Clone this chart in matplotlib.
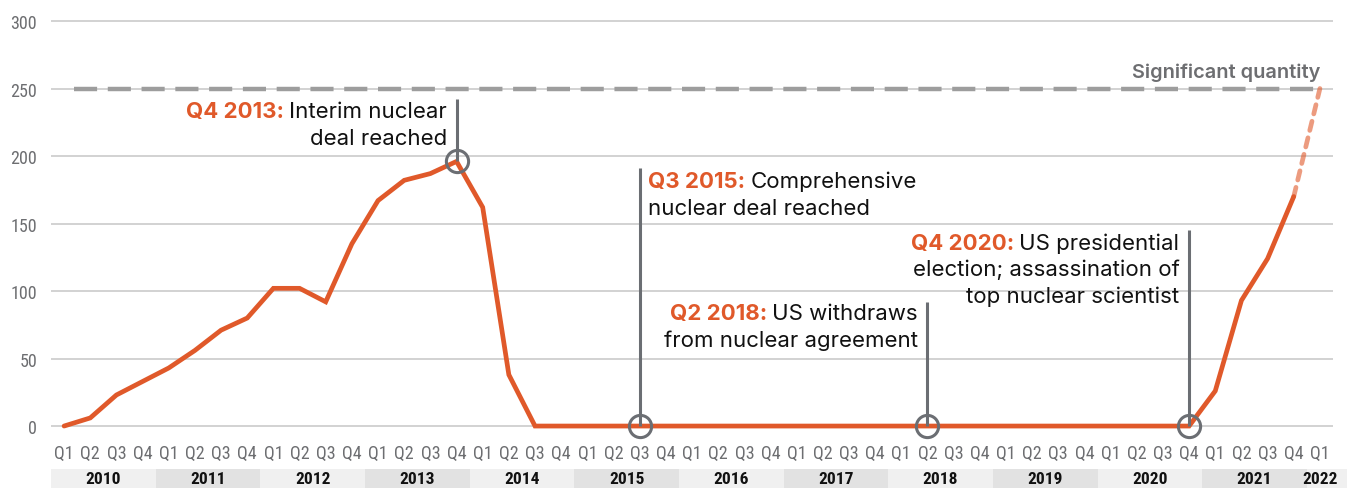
import matplotlib
matplotlib.use("Agg")
import matplotlib.pyplot as plt
from matplotlib import font_manager as fm
from matplotlib.transforms import blended_transform_factory
from matplotlib.patches import Rectangle

# ---------------- data ----------------
years = list(range(2010, 2023))
quarters = ["Q1", "Q2", "Q3", "Q4"]
stockpile_values = [0, 6, 23, 33,          # 2010
                    43, 56, 71, 80,        # 2011
                    102, 102, 92, 135,     # 2012
                    167, 182, 187, 196,    # 2013
                    162, 38, 0, 0,         # 2014
                    0, 0, 0, 0,            # 2015
                    0, 0, 0, 0,            # 2016
                    0, 0, 0, 0,            # 2017
                    0, 0, 0, 0,            # 2018
                    0, 0, 0, 0,            # 2019
                    0, 0, 0, 0,            # 2020
                    26, 93, 124, 170]      # 2021
projection_values = [170, 250]             # Q4 2021 -> Q1 2022
significant_quantity = 250
y_ticks = [0, 50, 100, 150, 200, 250, 300]

events = [  # (quarter index, value at marker, top of stem, bold label, text lines, align)
    (15, 196, 242, "Q4 2013:", ["Interim nuclear", "deal reached"], "right"),
    (22, 0, 191, "Q3 2015:", ["Comprehensive", "nuclear deal reached"], "left"),
    (33, 0, 92, "Q2 2018:", ["US withdraws", "from nuclear agreement"], "right"),
    (43, 0, 145, "Q4 2020:", ["US presidential", "election; assassination of", "top nuclear scientist"], "right"),
]
# text baselines (values) for each event's lines
event_baselines = [[229, 209], [177, 157], [79, 59], [131, 112, 92]]

# ---------------- fonts ----------------
avail = {f.name for f in fm.fontManager.ttflist}
def pick(*names):
    for n in names:
        if n in avail:
            return n
    return "DejaVu Sans"
NARROW = pick("Liberation Sans Narrow", "Roboto Condensed", "DejaVu Sans")
MAIN = pick("Inter", "Roboto", "Lato", "DejaVu Sans")

ORANGE = "#E0592A"
GRAY_TXT = "#6d6e71"
STEM = "#6b6e73"
ANN_FS = 16

W, H = 1359, 489
fig = plt.figure(figsize=(W / 100, H / 100), dpi=100)
ax = fig.add_axes([51 / W, 49 / H, (1333 - 51) / W, 430 / H])
ax.set_xlim(-0.5, 48.5)
ax.set_ylim(-9.6, 308.9)
for s in ax.spines.values():
    s.set_visible(False)
ax.set_xticks([])
ax.set_yticks(y_ticks)
ax.set_yticklabels([str(v) for v in y_ticks], fontfamily=NARROW, fontsize=13, color=GRAY_TXT)
ax.tick_params(axis="y", length=0, pad=10)
for v in y_ticks:
    ax.axhline(v, color="#c6c6c6", lw=1.1, zorder=1)

# significant quantity line
ax.plot([0.38, 48.05], [significant_quantity] * 2, color="#9d9d9d", lw=3.2,
        dashes=(5.2, 2.4), zorder=2, solid_capstyle="butt")
ax.text(48.0, 258.5, "Significant quantity", ha="right", va="baseline",
        fontfamily=MAIN, fontweight="semibold", fontsize=14.4, color=GRAY_TXT)

# main series
xs = list(range(len(stockpile_values)))
ax.plot(xs, stockpile_values, color=ORANGE, lw=3.4, zorder=4, solid_joinstyle="miter",
        solid_capstyle="round")
ax.plot([len(stockpile_values) - 1, len(stockpile_values)], projection_values,
        color=ORANGE, alpha=0.6, lw=3.4, dashes=(2.0, 1.6), dash_capstyle="round", zorder=3)

# events
fig.canvas.draw()
renderer = fig.canvas.get_renderer()
for (qi, val, top, bold, lines, align), bases in zip(events, event_baselines):
    ax.plot([qi, qi], [val, top], color=STEM, lw=2.2, zorder=5, solid_capstyle="butt")
    ax.plot([qi], [val], marker="o", ms=16, mfc="none", mec=STEM, mew=2.2, zorder=6)
    tx = qi - 0.37 if align == "right" else qi + 0.32
    for li, (line, b) in enumerate(zip(lines, bases)):
        t = ax.text(tx, b, line, ha=align, va="baseline", fontfamily=MAIN,
                    fontsize=ANN_FS, color="#111111", zorder=7)
        if li == 0:
            if align == "right":
                bb = t.get_window_extent(renderer)
                x_edge = ax.transData.inverted().transform((bb.x0, 0))[0]
                ax.text(x_edge, b, bold + " ", ha="right", va="baseline", fontfamily=MAIN,
                        fontsize=ANN_FS, fontweight="bold", color=ORANGE, zorder=7)
            else:
                tb = ax.text(tx, b, bold + " ", ha="left", va="baseline", fontfamily=MAIN,
                             fontsize=ANN_FS, fontweight="bold", color=ORANGE, zorder=7)
                bb = tb.get_window_extent(renderer)
                x_edge = ax.transData.inverted().transform((bb.x1, 0))[0]
                t.set_x(x_edge)

# quarter labels & year bands
trans = blended_transform_factory(ax.transData, fig.transFigure)
n_q = len(stockpile_values) + 1
for i in range(n_q):
    ax.text(i, 1 - 454 / H, quarters[i % 4], transform=trans, ha="center", va="center",
            fontfamily=NARROW, fontsize=13, color=GRAY_TXT, clip_on=False)
for k, yr in enumerate(years):
    x0 = 4 * k - 0.5
    x1 = min(4 * k + 3.5, 49.05)
    col = "#f0f0f0" if k % 2 == 0 else "#e2e2e2"
    ax.add_patch(Rectangle((x0, 0), x1 - x0, 1 - 470 / H, transform=trans,
                           facecolor=col, edgecolor="none", clip_on=False, zorder=0))
    cx = 4 * k + 1.5 if yr != 2022 else 48
    ax.text(cx, 1 - 480 / H, str(yr), transform=trans, ha="center", va="center",
            fontfamily=NARROW, fontsize=12.5, fontweight="bold", color="#111111", clip_on=False)

fig.savefig("out.png", dpi=100)
